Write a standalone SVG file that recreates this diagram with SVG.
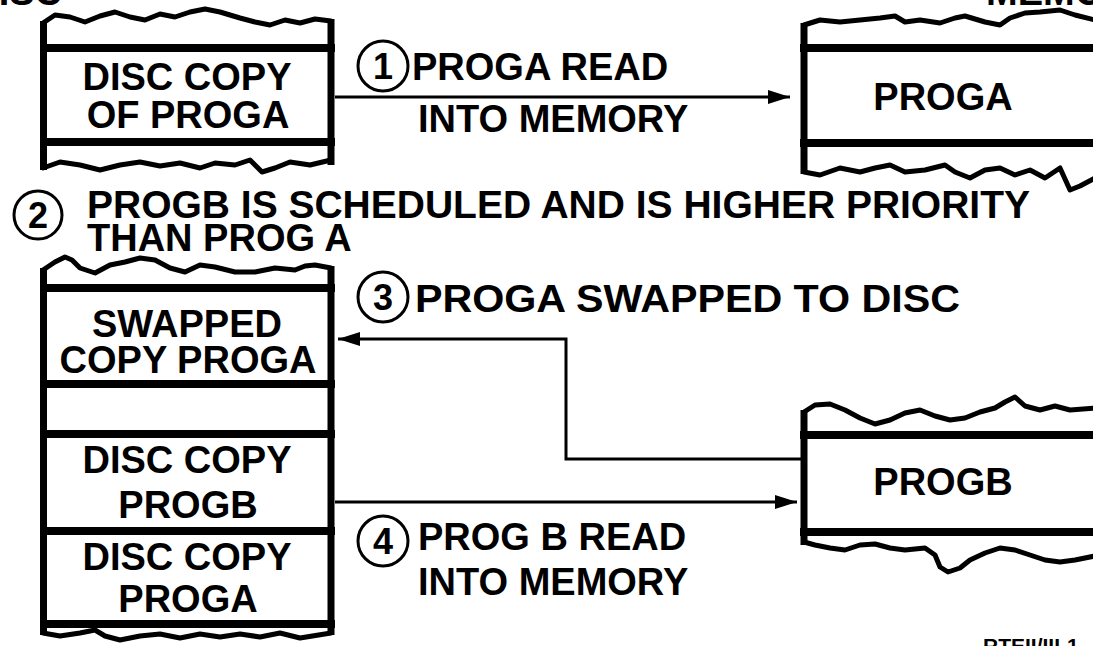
<svg xmlns="http://www.w3.org/2000/svg" width="1093" height="646" viewBox="0 0 1093 646">
  <style>
    .txt { font-family: "Liberation Sans", Arial, sans-serif; font-weight: bold; font-size: 38px; fill: #000; }
    .mid { text-anchor: middle; }
    .side { stroke: #000; stroke-width: 7; fill: none; }
    .band { stroke: #000; stroke-width: 8; fill: none; }
    .wave { stroke: #000; stroke-width: 5; fill: none; stroke-linejoin: round; stroke-linecap: round; }
    .ring { stroke: #000; stroke-width: 3; fill: #fff; }
    .num { font-family: "Liberation Sans", Arial, sans-serif; font-weight: bold; font-size: 36px; text-anchor: middle; fill: #000; }
    .conn { stroke: #000; stroke-width: 3; fill: none; }
    .small { font-family: "Liberation Sans", Arial, sans-serif; font-weight: bold; font-size: 21px; fill: #000; }
  </style>
  <defs>
    <marker id="head" markerUnits="userSpaceOnUse" markerWidth="24" markerHeight="14" refX="22" refY="7" orient="auto">
      <path d="M0,0 L22,7 L0,14 z" fill="#000"/>
    </marker>
  </defs>
  <rect width="1093" height="646" fill="#fff"/>

  <!-- headings cut by the page edge -->
  <text class="txt" x="62" y="5" text-anchor="end">DISC</text>
  <text class="txt" x="986" y="5">MEMORY</text>
  <text class="small" x="983" y="653">RTEII/III-1</text>

  <!-- disc: single program copy -->
  <g id="disc-top">
    <path class="wave" d="M43,23 L55,15 L70,17 L85,22 L100,16 L115,12 L130,17 L145,20 L160,14 L175,17 L190,12 L205,9 L220,12 L240,18 L255,22 L270,25 L285,20 L300,23 L315,19 L331,21"/>
    <line class="side" x1="43.5" y1="21" x2="43.5" y2="170"/>
    <line class="side" x1="331" y1="19" x2="331" y2="165"/>
    <line class="band" x1="40" y1="48" x2="335" y2="48"/>
    <line class="band" x1="40" y1="142" x2="335" y2="142"/>
    <path class="wave" d="M43,168 L60,162 L80,165 L100,170 L120,165 L140,162 L160,166 L180,163 L200,168 L215,163 L235,165 L250,160 L262,172 L275,168 L290,162 L310,165 L331,160"/>
    <text class="txt mid" x="187" y="90">DISC COPY</text>
    <text class="txt mid" x="188" y="128">OF PROGA</text>
  </g>

  <!-- memory: PROGA resident -->
  <g id="mem-proga">
    <path class="wave" d="M804,25 L820,20 L840,22 L860,20 L880,18 L895,16 L905,22 L920,20 L940,23 L955,18 L965,16 L985,22 L1000,25 L1010,18 L1025,13 L1040,12 L1060,10 L1075,15 L1095,20"/>
    <line class="side" x1="804" y1="23" x2="804" y2="174"/>
    <line class="band" x1="800" y1="48" x2="1095" y2="48"/>
    <line class="band" x1="800" y1="143" x2="1095" y2="143"/>
    <path class="wave" d="M804,172 L820,175 L840,168 L860,172 L875,168 L890,165 L905,172 L925,170 L945,165 L955,172 L970,178 L985,170 L1000,168 L1015,175 L1030,170 L1045,178 L1060,168 L1070,190 L1080,186 L1095,178"/>
    <text class="txt mid" x="943" y="110">PROGA</text>
  </g>

  <!-- disc: swap area and program copies -->
  <g id="disc-bottom">
    <path class="wave" d="M43,270 L55,262 L65,257 L72,260 L80,268 L95,273 L110,265 L125,262 L140,258 L155,260 L170,268 L185,272 L200,265 L215,267 L235,272 L255,272 L275,268 L295,270 L305,266 L315,265 L331,268"/>
    <line class="side" x1="43.5" y1="268" x2="43.5" y2="635"/>
    <line class="side" x1="331" y1="266" x2="331" y2="635"/>
    <line class="band" x1="40" y1="288" x2="335" y2="288"/>
    <line class="band" x1="40" y1="384" x2="335" y2="384"/>
    <line class="band" x1="40" y1="434" x2="335" y2="434"/>
    <line class="band" x1="40" y1="531" x2="335" y2="531"/>
    <line class="band" x1="40" y1="624" x2="335" y2="624"/>
    <path class="wave" d="M43,633 L60,636 L80,633 L95,630 L105,636 L120,640 L140,636 L160,634 L180,638 L200,634 L220,637 L240,634 L260,637 L280,633 L300,638 L331,633"/>
    <text class="txt mid" x="187" y="337">SWAPPED</text>
    <text class="txt mid" x="188" y="373">COPY PROGA</text>
    <text class="txt mid" x="187" y="473">DISC COPY</text>
    <text class="txt mid" x="188" y="518">PROGB</text>
    <text class="txt mid" x="187" y="570">DISC COPY</text>
    <text class="txt mid" x="188" y="612">PROGA</text>
  </g>

  <!-- memory: PROGB resident -->
  <g id="mem-progb">
    <path class="wave" d="M804,412 L815,405 L830,404 L845,410 L860,418 L875,424 L890,420 L905,413 L920,410 L935,416 L950,420 L965,418 L980,412 L995,408 L1005,402 L1015,397 L1025,406 L1040,410 L1055,406 L1070,410 L1095,408"/>
    <line class="side" x1="804" y1="410" x2="804" y2="545"/>
    <line class="band" x1="800" y1="435" x2="1095" y2="435"/>
    <line class="band" x1="800" y1="532" x2="1095" y2="532"/>
    <path class="wave" d="M804,542 L815,545 L830,548 L845,550 L860,545 L875,544 L890,548 L905,550 L925,548 L935,555 L940,567 L948,572 L960,568 L970,560 L985,553 L1000,548 L1015,550 L1030,555 L1045,560 L1060,562 L1075,560 L1095,556"/>
    <text class="txt mid" x="943" y="495">PROGB</text>
  </g>

  <!-- transfer arrows -->
  <g id="connectors">
    <line class="conn" x1="335" y1="97" x2="790" y2="97" marker-end="url(#head)"/>
    <path class="conn" d="M801,459 H566 V339 H338" marker-end="url(#head)"/>
    <line class="conn" x1="335" y1="502" x2="797" y2="502" marker-end="url(#head)"/>
  </g>

  <!-- step 1 -->
  <g id="step1">
    <circle class="ring" cx="383" cy="66" r="25"/>
    <text class="num" x="383" y="79">1</text>
    <text class="txt" x="412" y="80">PROGA READ</text>
    <text class="txt" x="418" y="132">INTO MEMORY</text>
  </g>

  <!-- step 2 -->
  <g id="step2">
    <circle class="ring" cx="38" cy="215" r="24"/>
    <text class="num" x="38" y="228">2</text>
    <text class="txt" x="87" y="218" textLength="943" lengthAdjust="spacingAndGlyphs">PROGB IS SCHEDULED AND IS HIGHER PRIORITY</text>
    <text class="txt" x="87" y="251">THAN PROG A</text>
  </g>

  <!-- step 3 -->
  <g id="step3">
    <circle class="ring" cx="383" cy="297" r="25"/>
    <text class="num" x="383" y="310">3</text>
    <text class="txt" x="415" y="312" textLength="545" lengthAdjust="spacingAndGlyphs">PROGA SWAPPED TO DISC</text>
  </g>

  <!-- step 4 -->
  <g id="step4">
    <circle class="ring" cx="383" cy="541" r="25"/>
    <text class="num" x="383" y="554">4</text>
    <text class="txt" x="418" y="550">PROG B READ</text>
    <text class="txt" x="418" y="595">INTO MEMORY</text>
  </g>
</svg>
